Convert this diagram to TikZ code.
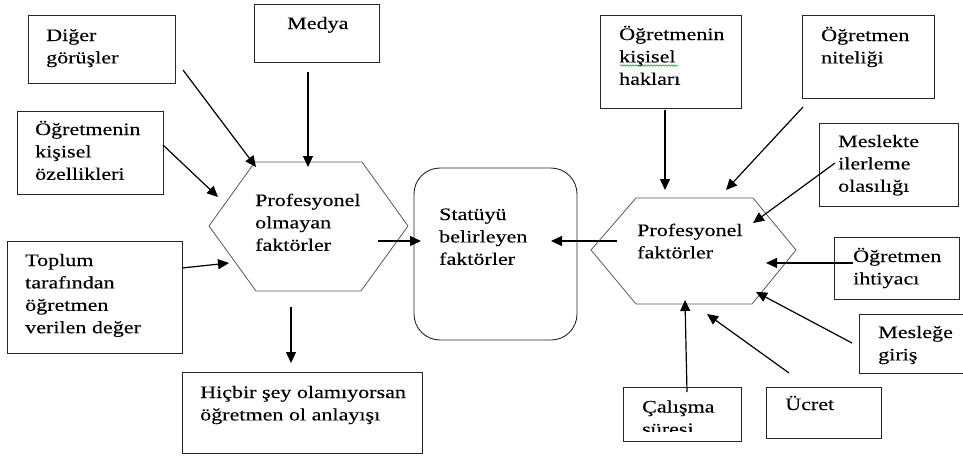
\documentclass[tikz,border=0pt]{standalone}
\usepackage{fontspec}
\setmainfont{Liberation Serif}[FakeStretch=1.26,FakeBold=0.2]
\usetikzlibrary{arrows.meta,decorations.pathmorphing}
\newcommand{\mlines}[1]{\begin{tabular}[t]{@{}l@{}}#1\end{tabular}}
\tikzset{
  box/.style={draw=black!85, line width=0.9pt, anchor=north west, inner sep=0pt, outer sep=0pt},
  txt/.style={anchor=base west, inner sep=0pt, font=\fontsize{17.5}{22.4}\selectfont},
  hexa/.style={draw=black!65, line width=0.8pt},
  arr/.style={-{Triangle[length=11pt,width=10pt]}, line width=1.2pt, black}
}
\begin{document}
\begin{tikzpicture}[x=1pt,y=-1pt]
\useasboundingbox (0,0) rectangle (963,455);
\fill[white] (0,0) rectangle (963,455);
% ---- boxes ----
\node[box, minimum width=147, minimum height=68] (bdig) at (28,15) {};
\node[box, minimum width=125, minimum height=58] (bmed) at (254,4.5) {};
\node[box, minimum width=146, minimum height=83] (bozl) at (17,111) {};
\node[box, minimum width=175, minimum height=112] (btop) at (7,241) {};
\node[box, minimum width=240, minimum height=81] (bhic) at (182,372.5) {};
\node[box, minimum width=163, minimum height=172, rounded corners=26pt] (bsta) at (414,168) {};
\node[box, minimum width=141, minimum height=93] (bhak) at (600,15) {};
\node[box, minimum width=132, minimum height=83] (bnit) at (802,15) {};
\node[box, minimum width=139, minimum height=83] (bile) at (819,123) {};
\node[box, minimum width=125, minimum height=62] (biht) at (834,237) {};
\begin{scope}
\clip (0,0) rectangle (963,455);
\node[box, minimum width=120, minimum height=59] (bmes) at (859,314) {};
\end{scope}
\node[box, minimum width=115, minimum height=51] (bucr) at (766,387) {};
\node[box, minimum width=118, minimum height=54] (bcal) at (623,387) {};
% ---- hexagons ----
\coordinate (hl1) at (255,162); \coordinate (hl2) at (362,162);
\coordinate (hl3) at (408,226); \coordinate (hl4) at (361,291);
\coordinate (hl5) at (256,291); \coordinate (hl6) at (209,226);
\draw[hexa] (hl1) -- (hl2) -- (hl3) -- (hl4) -- (hl5) -- (hl6) -- cycle;
\coordinate (hr1) at (636,198); \coordinate (hr2) at (753,198);
\coordinate (hr3) at (796,250); \coordinate (hr4) at (752,304);
\coordinate (hr5) at (636,304); \coordinate (hr6) at (591,250);
\draw[hexa] (hr1) -- (hr2) -- (hr3) -- (hr4) -- (hr5) -- (hr6) -- cycle;
% ---- texts ----
\node[txt] (tdig) at (46,41) {\mlines{Diğer\\görüşler}};
\node[txt] (tmed) at (287,29) {Medya};
\node[txt] (tozl) at (35,135) {\mlines{Öğretmenin\\kişisel\\özellikleri}};
\node[txt] (ttop) at (25,266) {\mlines{Toplum\\tarafından\\öğretmen\\verilen değer}};
\node[txt] (thic) at (200,398) {\mlines{Hiçbir şey olamıyorsan\\öğretmen ol anlayışı}};
\node[txt] (tpol) at (255,206) {\mlines{Profesyonel\\olmayan\\faktörler}};
\node[txt] (tsta) at (439,220) {\mlines{Statüyü\\belirleyen\\faktörler}};
\node[txt] (tpf) at (637,236) {\mlines{Profesyonel\\faktörler}};
\node[txt] (thak) at (619,40) {\mlines{Öğretmenin\\kişisel\\hakları}};
\draw[green!60!black, line width=0.5pt, decorate, decoration={snake, amplitude=0.8pt, segment length=3pt}] (620,65.5) -- (678,65.5);
\node[txt] (tnit) at (821,41) {\mlines{Öğretmen\\niteliği}};
\node[txt] (tile) at (838,147) {\mlines{Meslekte\\ilerleme\\olasılığı}};
\node[txt] (tiht) at (853,262) {\mlines{Öğretmen\\ihtiyacı}};
\node[txt] (tmes) at (878,338) {\mlines{Mesleğe\\giriş}};
\node[txt] (tucr) at (785,410) {Ücret};
\begin{scope}
\clip (623,387) rectangle (741,431.5);
\node[txt] (tcal) at (642,412.5) {\mlines{Çalışma\\süresi}};
\end{scope}
% ---- arrows ----
\coordinate (a1s) at (183,70);  \coordinate (a1e) at (256,167);
\coordinate (a2s) at (308,72);  \coordinate (a2e) at (308,167);
\coordinate (a3s) at (163,145); \coordinate (a3e) at (218,197);
\coordinate (a4s) at (182,268); \coordinate (a4e) at (229,263);
\coordinate (a5s) at (291,307); \coordinate (a5e) at (291,363);
\coordinate (a6s) at (378,241); \coordinate (a6e) at (421,241);
\coordinate (a7s) at (617,241); \coordinate (a7e) at (551,241);
\coordinate (a8s) at (665,110); \coordinate (a8e) at (665,190);
\coordinate (a9s) at (803,107); \coordinate (a9e) at (726,190);
\coordinate (a10s) at (835,163); \coordinate (a10e) at (753,223);
\coordinate (a11s) at (853,263); \coordinate (a11e) at (766,263);
\coordinate (a12s) at (852,343); \coordinate (a12e) at (756,292);
\coordinate (a13s) at (789,373); \coordinate (a13e) at (707,314);
\coordinate (a14s) at (687,392); \coordinate (a14e) at (685,300);
\foreach \i in {1,...,14} {\draw[arr] (a\i s) -- (a\i e);}
\end{tikzpicture}
\end{document}
